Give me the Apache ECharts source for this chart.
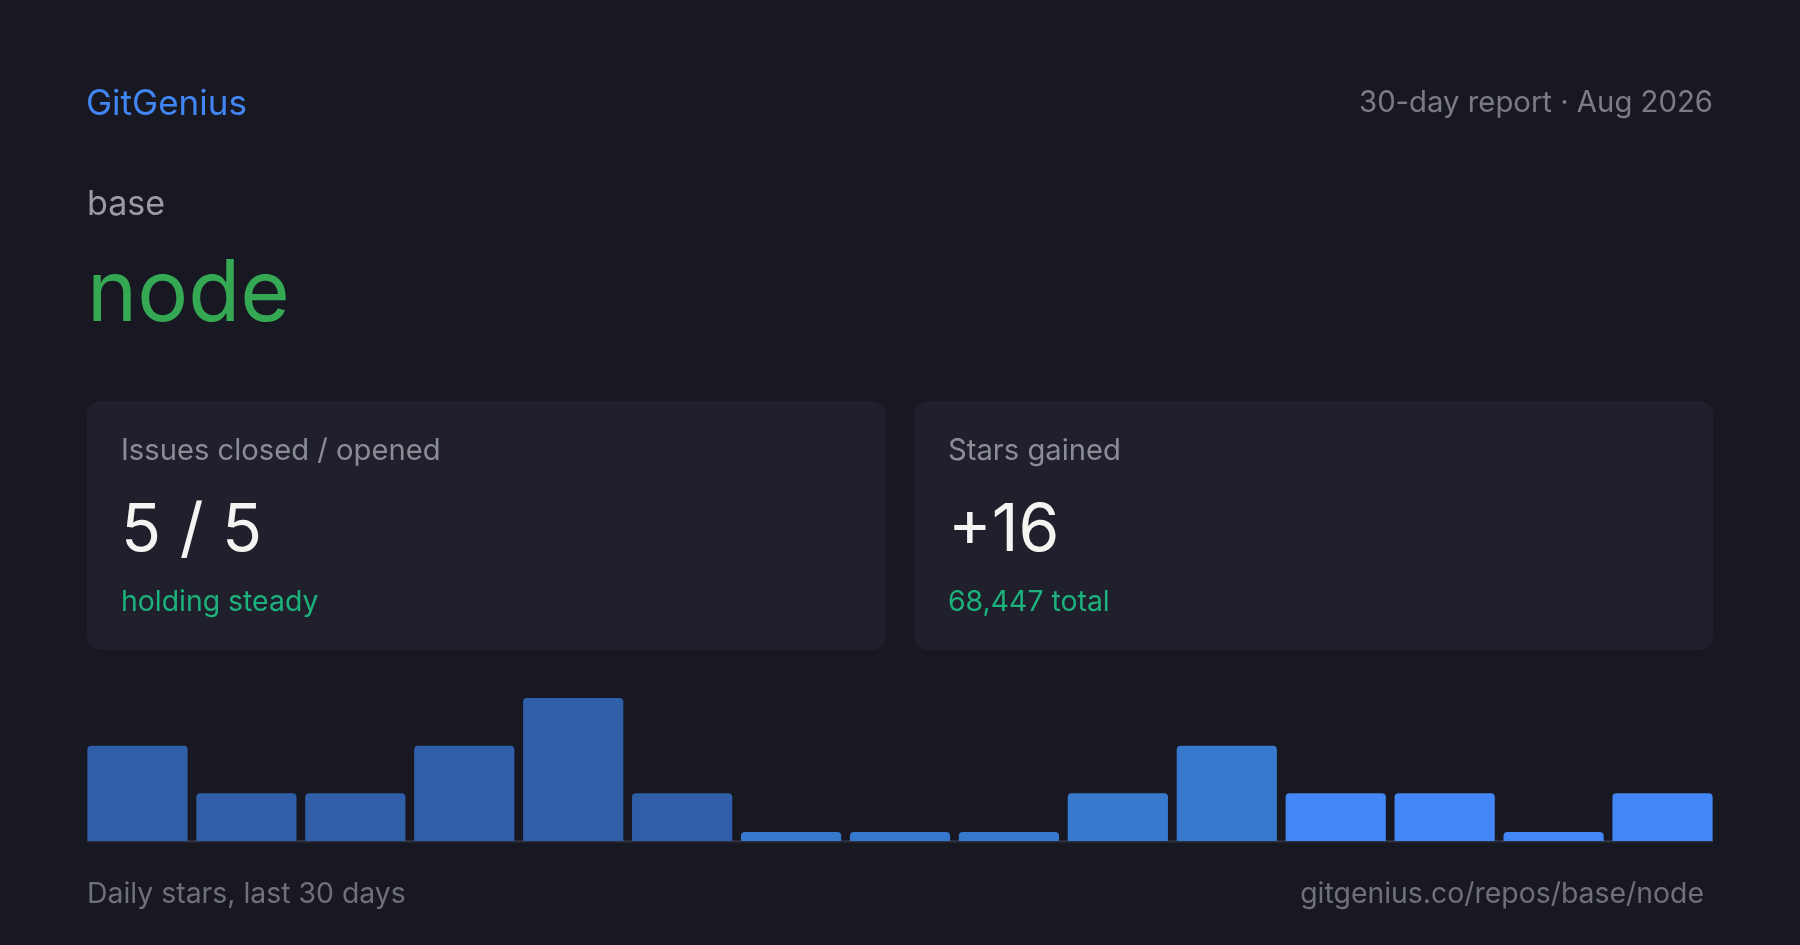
<!DOCTYPE html>
<html>
<head>
<meta charset="utf-8">
<script src="https://cdn.jsdelivr.net/npm/echarts@6/dist/echarts.min.js"></script>
<style>
  html, body { margin: 0; padding: 0; background: #171821; }
  #chart { width: 1800px; height: 945px; }
</style>
</head>
<body>
<div id="chart"></div>
<script>
// ---- data ----
const brand = 'GitGenius';
const reportLabel = '30-day report · Aug 2026';
const owner = 'base';
const repo = 'node';
const issuesLabel = 'Issues closed / opened';
const issuesValue = '5 / 5';
const issuesNote = 'holding steady';
const starsLabel = 'Stars gained';
const starsValue = '+16';
const starsNote = '68,447 total';
const footerLeft = 'Daily stars, last 30 days';
const footerRight = 'gitgenius.co/repos/base/node';
const barCategories = ['1','2','3','4','5','6','7','8','9','10','11','12','13','14','15'];
const starValues = [2, 1, 1, 2, 3, 1, 0, 0, 0, 1, 2, 1, 1, 0, 1];

// ---- styles ----
const FONT = 'Inter, "Noto Sans", sans-serif';
const DARK = '#2e5fa8', MID = '#3779cc', BRIGHT = '#4287f5';

const chart = echarts.init(document.getElementById('chart'));

function txt(x, y, text, size, color, align) {
  return {
    type: 'text', x: x, y: y, z: 10,
    style: { text: text, fontSize: size, fill: color, fontFamily: FONT,
             align: align || 'left', verticalAlign: 'middle' }
  };
}
function card(x) {
  return { type: 'rect', z: 1, shape: { x: x, y: 401, width: 799, height: 249, r: 14 },
           style: { fill: '#1f202c' } };
}

chart.setOption({
  backgroundColor: '#171821',
  animation: false,
  grid: { left: 83, right: 83, top: 698, bottom: 104, containLabel: false },
  xAxis: {
    type: 'category', data: barCategories,
    axisLine: { show: false }, axisTick: { show: false },
    axisLabel: { show: false }, splitLine: { show: false }
  },
  yAxis: {
    type: 'value', min: 0, max: 3, show: false, splitLine: { show: false }
  },
  series: [{
    type: 'bar', data: starValues, barCategoryGap: '8%', barMinHeight: 9, z: 3,
    itemStyle: {
      borderRadius: [4, 4, 0, 0],
      color: function (p) { return p.dataIndex < 6 ? DARK : (p.dataIndex < 11 ? MID : BRIGHT); }
    }
  }],
  graphic: [
    card(87), card(914),
    { type: 'rect', z: 0, shape: { x: 87, y: 840, width: 1626, height: 2.5 },
      style: { fill: '#2d2e3b' } },
    txt(86, 104, brand, 35, '#4285f4'),
    txt(1713, 103.5, reportLabel, 29.3, '#7b7c86', 'right'),
    txt(87, 205, owner, 34, '#9a9ba3'),
    txt(87, 295, repo, 85, '#34a853'),
    txt(121, 451, issuesLabel, 29.2, '#8b8c96'),
    txt(121, 531, issuesValue, 66, '#f4f4f2'),
    txt(121, 602.5, issuesNote, 28.4, '#1db27c'),
    txt(948, 451, starsLabel, 29.2, '#8b8c96'),
    txt(948, 531, starsValue, 66, '#f4f4f2'),
    txt(948, 602.5, starsNote, 28.4, '#1db27c'),
    txt(87, 894.5, footerLeft, 28.4, '#6f707b'),
    txt(1704, 894.5, footerRight, 28.4, '#6f707b', 'right')
  ]
});
</script>
</body>
</html>
